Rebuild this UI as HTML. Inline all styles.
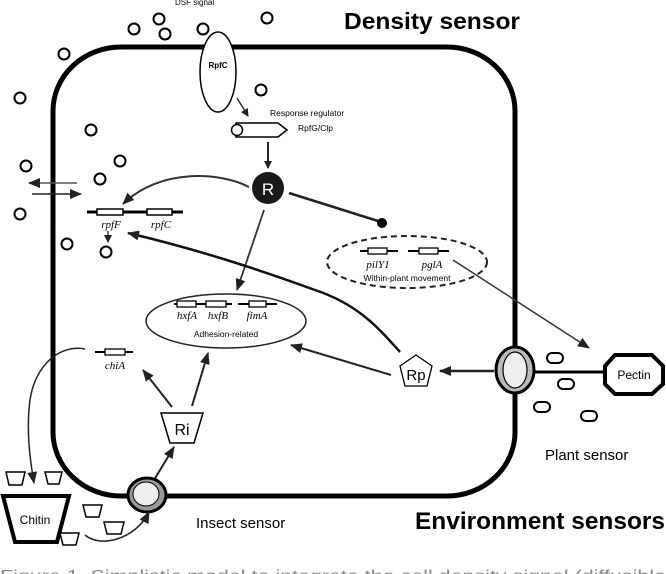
<!DOCTYPE html>
<html><head><meta charset="utf-8"><style>
html,body{margin:0;padding:0;background:#fff;width:666px;height:574px;overflow:hidden}
svg{display:block}
text{font-family:"Liberation Sans",sans-serif}
.it{font-family:"Liberation Serif",serif;font-style:italic}
</style></head><body>
<svg width="666" height="574" viewBox="0 0 666 574" xmlns="http://www.w3.org/2000/svg">
<defs>
<marker id="a" markerWidth="8" markerHeight="8" refX="7" refY="4" orient="auto" markerUnits="userSpaceOnUse"><path d="M0,0 L8,4 L0,8 Z" fill="#222"/></marker>
<marker id="a2" markerWidth="12" markerHeight="10" refX="11" refY="5" orient="auto" markerUnits="userSpaceOnUse"><path d="M0,0 L12,5 L0,10 Z" fill="#222"/></marker>
</defs>
<rect x="53" y="47" width="462" height="449" rx="68" ry="64" fill="none" stroke="#000" stroke-width="5"/>
<text x="175" y="5" font-size="8">DSF signal</text>
<text x="344" y="29" font-size="23" font-weight="bold" textLength="176" lengthAdjust="spacingAndGlyphs">Density sensor</text>
<g fill="#fff" stroke="#000" stroke-width="2">
<circle cx="159" cy="19" r="5.5"/><circle cx="134" cy="29" r="5.5"/><circle cx="165" cy="34" r="5.5"/><circle cx="203" cy="29" r="5.5"/><circle cx="267" cy="18" r="5.5"/>
<circle cx="64" cy="54" r="5.5"/><circle cx="20" cy="98" r="5.5"/><circle cx="91" cy="130" r="5.5"/><circle cx="261" cy="90" r="5.5"/>
<circle cx="120" cy="161" r="5.5"/><circle cx="26" cy="166" r="5.5"/><circle cx="100" cy="179" r="5.5"/><circle cx="20" cy="214" r="5.5"/><circle cx="67" cy="244" r="5.5"/><circle cx="106" cy="252" r="5.5"/>
</g>
<ellipse cx="218" cy="72" rx="18" ry="40" fill="#fff" stroke="#000" stroke-width="1.5"/>
<text x="218" y="68" font-size="8" font-weight="bold" text-anchor="middle">RpfC</text>
<path d="M237,98 L248,116" stroke="#222" stroke-width="1.3" marker-end="url(#a)"/>
<text x="270" y="116" font-size="8.5">Response regulator</text>
<text x="298" y="131" font-size="8.5">RpfG/Clp</text>
<path d="M236,123 L278,123 L287,130 L278,137 L236,137 Z" fill="#fff" stroke="#000" stroke-width="1.5"/>
<circle cx="237" cy="130" r="5.5" fill="#fff" stroke="#000" stroke-width="1.5"/>
<path d="M268,142 L268,168" stroke="#222" stroke-width="2" marker-end="url(#a)"/>
<circle cx="268" cy="188" r="16" fill="#1a1a1a"/>
<text x="268" y="195" font-size="17" fill="#fff" text-anchor="middle">R</text>
<path d="M289,193 L378,221" stroke="#222" stroke-width="2.5"/>
<circle cx="382" cy="223" r="5" fill="#000"/>
<path d="M249,187 C220,172 160,168 123,204" fill="none" stroke="#333" stroke-width="2" marker-end="url(#a2)"/>
<path d="M264,210 L237,290" stroke="#333" stroke-width="1.8" marker-end="url(#a2)"/>
<path d="M77,183 L29,183" stroke="#555" stroke-width="1.5" marker-end="url(#a2)"/>
<path d="M32,194 L81,194" stroke="#222" stroke-width="1.5" marker-end="url(#a2)"/>
<path d="M87,212 L183,212" stroke="#000" stroke-width="3"/>
<rect x="97" y="209" width="26" height="6" fill="#fff" stroke="#000" stroke-width="1.5"/>
<rect x="147" y="209" width="25" height="6" fill="#fff" stroke="#000" stroke-width="1.5"/>
<text x="111" y="228" font-size="11" class="it" text-anchor="middle">rpfF</text>
<text x="161" y="228" font-size="11" class="it" text-anchor="middle">rpfC</text>
<path d="M108,231 L108,242" stroke="#222" stroke-width="1.3" marker-end="url(#a)"/>
<path d="M400,352 C380,330 360,305 315,290 C260,270 200,250 128,233" fill="none" stroke="#111" stroke-width="2.5" marker-end="url(#a2)"/>
<ellipse cx="407" cy="262" rx="80" ry="26" fill="none" stroke="#222" stroke-width="2" stroke-dasharray="6,4"/>
<path d="M360,251 L398,251 M408,251 L449,251" stroke="#000" stroke-width="2"/>
<rect x="368" y="248" width="19" height="6" fill="#fff" stroke="#000" stroke-width="1.3"/>
<rect x="419" y="248" width="19" height="6" fill="#fff" stroke="#000" stroke-width="1.3"/>
<text x="378" y="268" font-size="11" class="it" text-anchor="middle">pilY1</text>
<text x="432" y="268" font-size="11" class="it" text-anchor="middle">pglA</text>
<text x="407" y="281" font-size="8.5" text-anchor="middle">Within-plant movement</text>
<path d="M453,260 L589,348" stroke="#333" stroke-width="1.5" marker-end="url(#a2)"/>
<ellipse cx="226" cy="321" rx="80" ry="27" fill="#fff" stroke="#222" stroke-width="1.5"/>
<path d="M174,304 L232,304 M238,304 L277,304" stroke="#000" stroke-width="2"/>
<rect x="177" y="301" width="19" height="6" fill="#fff" stroke="#000" stroke-width="1.3"/>
<rect x="206" y="301" width="20" height="6" fill="#fff" stroke="#000" stroke-width="1.3"/>
<rect x="249" y="301" width="17" height="6" fill="#fff" stroke="#000" stroke-width="1.3"/>
<text x="187" y="319" font-size="11" class="it" text-anchor="middle">hxfA</text>
<text x="218" y="319" font-size="11" class="it" text-anchor="middle">hxfB</text>
<text x="257" y="319" font-size="11" class="it" text-anchor="middle">fimA</text>
<text x="226" y="337" font-size="8.5" text-anchor="middle">Adhesion-related</text>
<path d="M416,355 L432,366 L427,386 L405,386 L400,366 Z" fill="#fff" stroke="#000" stroke-width="1.3"/>
<text x="416" y="380" font-size="15" text-anchor="middle">Rp</text>
<path d="M391,375 L291,345" stroke="#222" stroke-width="2" marker-end="url(#a2)"/>
<path d="M494,371 L440,371" stroke="#222" stroke-width="2.5" marker-end="url(#a2)"/>
<ellipse cx="515" cy="370" rx="19" ry="23" fill="#bbb" stroke="#000" stroke-width="3"/>
<ellipse cx="515" cy="370" rx="12" ry="18" fill="#eee" stroke="#000" stroke-width="1.2"/>
<path d="M534,372 L603,372" stroke="#000" stroke-width="3"/>
<path d="M615,355 L652,355 L663,366 L663,384 L652,394 L615,394 L605,384 L605,366 Z" fill="#fff" stroke="#000" stroke-width="4"/>
<text x="634" y="379" font-size="12" text-anchor="middle">Pectin</text>
<g fill="#fff" stroke="#000" stroke-width="2">
<rect x="547" y="353" width="16" height="10" rx="5"/><rect x="558" y="379" width="16" height="10" rx="5"/><rect x="534" y="402" width="16" height="10" rx="5"/><rect x="581" y="411" width="16" height="10" rx="5"/>
</g>
<text x="545" y="460" font-size="15">Plant sensor</text>
<path d="M95,352 L133,352" stroke="#000" stroke-width="2"/>
<rect x="105" y="349" width="20" height="6" fill="#fff" stroke="#000" stroke-width="1.3"/>
<text x="115" y="369" font-size="11" class="it" text-anchor="middle">chiA</text>
<path d="M85,349 C60,344 35,365 30,400 C26,430 30,460 34,483" fill="none" stroke="#222" stroke-width="1.5" marker-end="url(#a2)"/>
<path d="M161,413 L203,413 L194,443 L170,443 Z" fill="#fff" stroke="#000" stroke-width="1.5"/>
<text x="182" y="435" font-size="16" text-anchor="middle">Ri</text>
<path d="M172,407 L143,370" stroke="#222" stroke-width="2" marker-end="url(#a2)"/>
<path d="M192,406 L208,353" stroke="#222" stroke-width="2" marker-end="url(#a2)"/>
<path d="M154,480 L174,447" stroke="#222" stroke-width="2" marker-end="url(#a2)"/>
<ellipse cx="147" cy="495" rx="19" ry="17" fill="#999" stroke="#000" stroke-width="3"/>
<ellipse cx="146" cy="494" rx="13" ry="12" fill="#eee" stroke="#000" stroke-width="1"/>
<text x="196" y="528" font-size="15">Insect sensor</text>
<text x="415" y="529" font-size="24" font-weight="bold" textLength="250" lengthAdjust="spacingAndGlyphs">Environment sensors</text>
<path d="M3,496 L69,496 L57,542 L15,542 Z" fill="#fff" stroke="#000" stroke-width="4"/>
<text x="35" y="524" font-size="12" text-anchor="middle">Chitin</text>
<g fill="#fff" stroke="#000" stroke-width="1.5">
<path d="M6,472 L25,472 L22,485 L9,485 Z"/><path d="M45,472 L62,472 L59,484 L48,484 Z"/>
<path d="M83,505 L102,505 L99,517 L86,517 Z"/><path d="M104,522 L124,522 L121,534 L107,534 Z"/><path d="M60,533 L79,533 L76,545 L63,545 Z"/>
</g>
<path d="M85,535 C100,548 135,540 149,512" fill="none" stroke="#222" stroke-width="1.5" marker-end="url(#a2)"/>
<text x="0" y="581" font-size="16" fill="#888" textLength="666" lengthAdjust="spacingAndGlyphs">Figure 1. Simplistic model to integrate the cell density signal (diffusible</text>
</svg>
</body></html>
